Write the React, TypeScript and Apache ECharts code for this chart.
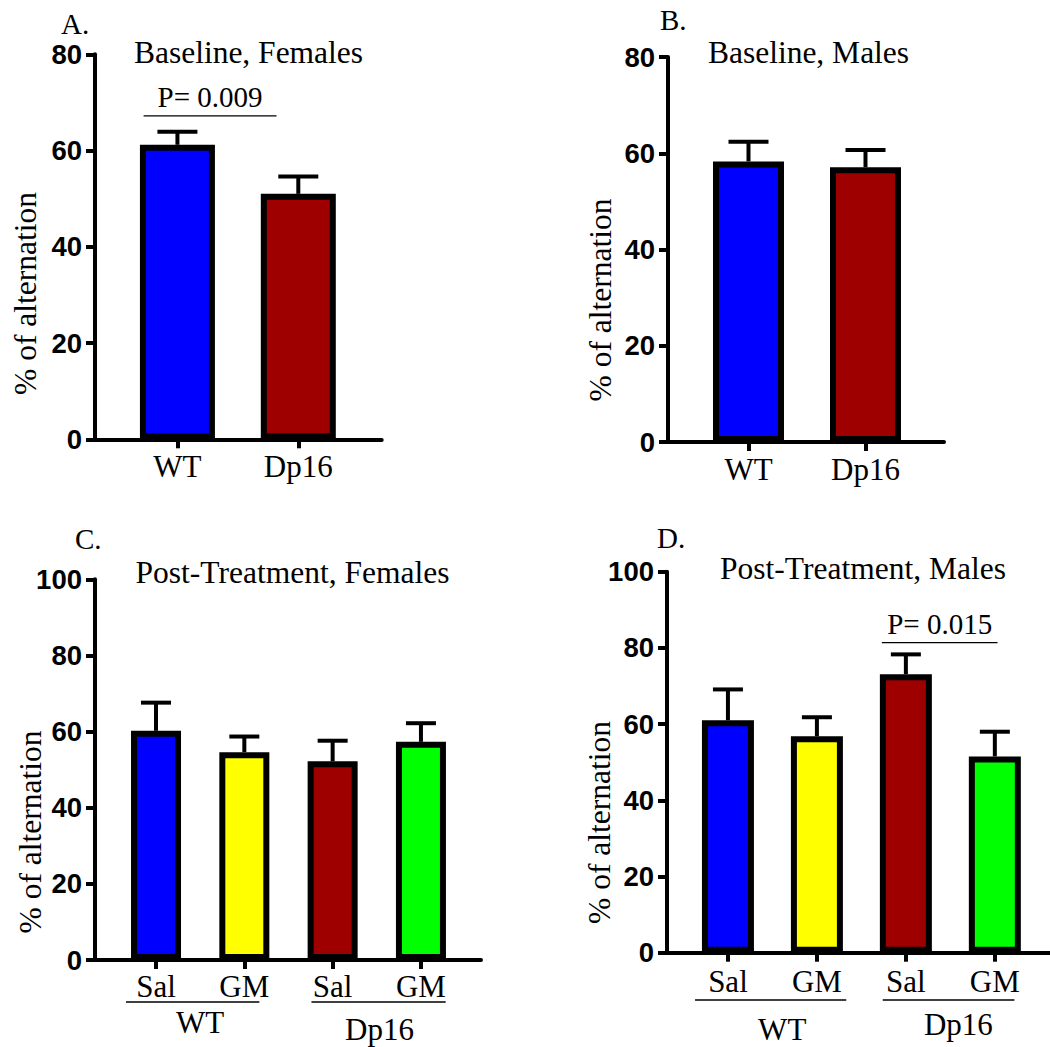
import React, { useEffect, useRef } from "react";
import * as echarts from "echarts";

// ---------- data ----------
const catsA = ["WT", "Dp16"];
const meansA = [61.2, 51.0];
const semA = [2.7, 3.6];

const catsB = ["WT", "Dp16"];
const meansB = [58.3, 57.1];
const semB = [4.1, 3.6];

const catsC = ["Sal", "GM", "Sal", "GM"];
const meansC = [60.2, 54.6, 52.2, 57.3];
const semC = [7.4, 4.1, 5.4, 4.9];

const catsD = ["Sal", "GM", "Sal", "GM"];
const meansD = [61.0, 56.8, 73.1, 51.5];
const semD = [8.1, 5.0, 5.2, 6.5];

const groupNames = ["WT", "Dp16"];

const sigA = { label: "P= 0.009", from: 0.72, to: 1.82, y: 67.2 };
const sigD = { label: "P= 0.015", from: 2.73, to: 4.03, y: 81.4 };

const yMaxBaseline = 80;
const yMaxPost = 100;
const yStep = 20;

const BLUE = "#0000FF";
const RED = "#9E0000";
const YELLOW = "#FFFF00";
const GREEN = "#00FF00";
const colors2 = [BLUE, RED];
const colors4 = [BLUE, YELLOW, RED, GREEN];

const SERIF = "Liberation Serif";
const SANS = "Liberation Sans";

// ---------- layout ----------
const panels = [
  {
    letter: "A.", title: "Baseline, Females", cats: catsA, means: meansA, sem: semA, colors: colors2,
    grid: { left: 95, top: 54.3, width: 286.7, height: 385 }, xMin: 0.318, xMax: 2.69, yMax: yMaxBaseline,
    barWidth: 75, capHalf: 20, labelMargin: 12, sig: sigA, groups: null as any,
    letterPos: [61, 24], titlePos: [248.5, 52], yNamePos: [25, 293.5],
  },
  {
    letter: "B.", title: "Baseline, Males", cats: catsB, means: meansB, sem: semB, colors: colors2,
    grid: { left: 668, top: 57, width: 276, height: 385 }, xMin: 0.312, xMax: 2.671, yMax: yMaxBaseline,
    barWidth: 71, capHalf: 20, labelMargin: 12, sig: null as any, groups: null as any,
    letterPos: [660, 19.5], titlePos: [808.5, 52.5], yNamePos: [600, 300],
  },
  {
    letter: "C.", title: "Post-Treatment, Females", cats: catsC, means: meansC, sem: semC, colors: colors4,
    grid: { left: 95, top: 579.3, width: 386, height: 380.7 }, xMin: 0.309, xMax: 4.68, yMax: yMaxPost,
    barWidth: 50, capHalf: 15, labelMargin: 11, sig: null as any,
    groups: { spans: [[0.66, 2.17, 1.5], [2.76, 4.28, 3.53]], lineDy: 42, labelDy: [62.5, 69] },
    letterPos: [75, 539], titlePos: [292.5, 572.5], yNamePos: [30, 832],
  },
  {
    letter: "D.", title: "Post-Treatment, Males", cats: catsD, means: meansD, sem: semD, colors: colors4,
    grid: { left: 667, top: 571.7, width: 383, height: 381 }, xMin: 0.315, xMax: 4.62, yMax: yMaxPost,
    barWidth: 52, capHalf: 15, labelMargin: 13, sig: sigD,
    groups: { spans: [[0.63, 2.33, 1.61], [2.74, 4.22, 3.59]], lineDy: 47.3, labelDy: [77, 71.5] },
    letterPos: [657, 538], titlePos: [863, 568], yNamePos: [599.5, 822.5],
  },
];

function txt(text: string, size: number, align: string) {
  return { text, fill: "#000", fontFamily: SERIF, fontSize: size, fontWeight: "normal", align, verticalAlign: "middle" };
}

function buildOption() {
  const grids: any[] = [];
  const xAxes: any[] = [];
  const yAxes: any[] = [];
  const series: any[] = [];
  const graphics: any[] = [];

  panels.forEach((p, i) => {
    grids.push({ ...p.grid, containLabel: false });
    const ticks = p.cats.map((_, k) => k + 1);
    xAxes.push({
      type: "value", gridIndex: i, min: p.xMin, max: p.xMax,
      splitLine: { show: false },
      axisLine: { show: true, onZero: false, lineStyle: { color: "#000", width: 4 } },
      axisTick: { show: true, customValues: ticks, length: 9, lineStyle: { color: "#000", width: 4 } },
      axisLabel: {
        show: true, customValues: ticks, margin: p.labelMargin,
        formatter: (v: number) => p.cats[Math.round(v) - 1] ?? "",
        color: "#000", fontFamily: SERIF, fontSize: 31, fontWeight: "normal",
      },
    });
    yAxes.push({
      type: "value", gridIndex: i, min: 0, max: p.yMax, interval: yStep,
      splitLine: { show: false },
      axisLine: { show: true, lineStyle: { color: "#000", width: 4 } },
      axisTick: { show: true, length: 9, lineStyle: { color: "#000", width: 4 } },
      axisLabel: { color: "#000", fontFamily: SANS, fontWeight: "bold", fontSize: 27.5, margin: 13 },
    });

    series.push({
      type: "bar", xAxisIndex: i, yAxisIndex: i, barWidth: p.barWidth,
      data: p.means.map((v, k) => ({ value: [k + 1, v], itemStyle: { color: p.colors[k] } })),
      itemStyle: { borderColor: "#000", borderWidth: 6 },
      z: 2,
    });

    series.push({
      type: "custom", xAxisIndex: i, yAxisIndex: i, z: 3,
      encode: { x: 0, y: [1, 2] },
      data: p.means.map((v, k) => [k + 1, v, v + p.sem[k]]),
      renderItem: (params: any, api: any) => {
        const x = api.value(0);
        const p0 = api.coord([x, api.value(1)]);
        const p1 = api.coord([x, api.value(2)]);
        const st = { stroke: "#000", lineWidth: 4 };
        return {
          type: "group",
          children: [
            { type: "line", shape: { x1: p0[0], y1: p0[1], x2: p1[0], y2: p1[1] }, style: st },
            { type: "line", shape: { x1: p1[0] - p.capHalf, y1: p1[1], x2: p1[0] + p.capHalf, y2: p1[1] }, style: st },
          ],
        };
      },
    });

    if (p.sig) {
      const s = p.sig;
      series.push({
        type: "custom", xAxisIndex: i, yAxisIndex: i, z: 3,
        encode: { x: [0, 1], y: 2 },
        data: [[s.from, s.to, s.y]],
        renderItem: (params: any, api: any) => {
          const a = api.coord([api.value(0), api.value(2)]);
          const b = api.coord([api.value(1), api.value(2)]);
          return {
            type: "group",
            children: [
              { type: "line", shape: { x1: a[0], y1: a[1], x2: b[0], y2: b[1] }, style: { stroke: "#000", lineWidth: 1.3 } },
              { type: "text", x: (a[0] + b[0]) / 2, y: a[1] - 18.5, style: txt(s.label, 29, "center") },
            ],
          };
        },
      });
    }

    if (p.groups) {
      const g = p.groups;
      series.push({
        type: "custom", xAxisIndex: i, yAxisIndex: i, z: 3,
        encode: { x: [0, 1, 2] },
        data: g.spans.map((sp: number[]) => [sp[0], sp[1], sp[2], 0]),
        renderItem: (params: any, api: any) => {
          const k = params.dataIndex;
          const a = api.coord([api.value(0), 0]);
          const b = api.coord([api.value(1), 0]);
          const c = api.coord([api.value(2), 0]);
          return {
            type: "group",
            children: [
              { type: "line", shape: { x1: a[0], y1: a[1] + g.lineDy, x2: b[0], y2: b[1] + g.lineDy }, style: { stroke: "#000", lineWidth: 1.3 } },
              { type: "text", x: c[0], y: c[1] + g.labelDy[k], style: txt(groupNames[k], 31, "center") },
            ],
          };
        },
      });
    }

    graphics.push({ type: "text", x: p.letterPos[0], y: p.letterPos[1], style: txt(p.letter, 29, "left") });
    graphics.push({ type: "text", x: p.titlePos[0], y: p.titlePos[1], style: txt(p.title, 31.5, "center") });
    graphics.push({
      type: "text", x: p.yNamePos[0], y: p.yNamePos[1], rotation: Math.PI / 2,
      style: txt("% of alternation", 31.5, "center"),
    });
  });

  return {
    animation: false,
    backgroundColor: "#fff",
    grid: grids,
    xAxis: xAxes,
    yAxis: yAxes,
    series,
    graphic: graphics,
  };
}

export default function App() {
  const ref = useRef<HTMLDivElement>(null);
  useEffect(() => {
    if (!ref.current) return;
    const chart = echarts.init(ref.current, null, { renderer: "svg" });
    chart.setOption(buildOption() as any);
    return () => chart.dispose();
  }, []);
  return (
    <div
      ref={ref}
      style={{ position: "absolute", left: 0, top: 0, width: 1050, height: 1047, background: "#fff" }}
    />
  );
}
